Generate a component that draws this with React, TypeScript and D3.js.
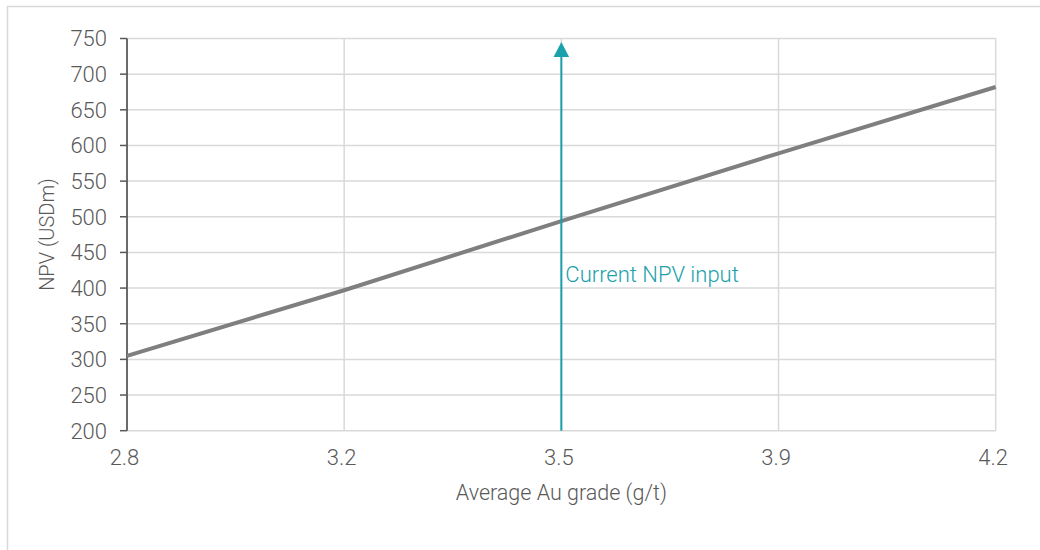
import React from "react";
import * as d3 from "d3";

const grades: string[] = ["2.8", "3.2", "3.5", "3.9", "4.2"];
const npv: number[] = [305, 397, 494, 589, 682];
const yTicks: number[] = [200, 250, 300, 350, 400, 450, 500, 550, 600, 650, 700, 750];
const currentGrade = "3.5";
const arrowTipValue = 745;
const labelValue = 409;
const labelText = "Current NPV input";
const xTitle = "Average Au grade (g/t)";
const yTitle = "NPV (USDm)";

const W = 1040;
const H = 550;
const left = 127;
const right = 995.7;
const top = 38.5;
const bottom = 430.7;
const FONT = "Roboto, 'Open Sans', sans-serif";
const TEXT = "#595959";
const GRID = "#d9d9d9";
const TEAL = "#1ba1ab";

export default function App() {
  const x = d3.scalePoint<string>().domain(grades).range([left, right]);
  const y = d3.scaleLinear().domain([200, 750]).range([bottom, top]);
  const line = d3
    .line<number>()
    .x((_, i) => x(grades[i]) as number)
    .y((d) => y(d));

  const ax = x(currentGrade) as number;
  const tipY = y(arrowTipValue);
  const headH = 15;
  const headW = 15.6;

  return (
    <svg
      width={W}
      height={H}
      style={{ position: "absolute", left: 0, top: 0, background: "#fff" }}
      fontFamily={FONT}
      fontWeight={300}
    >
      <rect x={7.5} y={6.5} width={W + 10} height={H + 10} fill="#fff" stroke={GRID} strokeWidth={1.5} />
      {yTicks.map((t) => (
        <line key={"h" + t} x1={left} x2={right} y1={y(t)} y2={y(t)} stroke={GRID} strokeWidth={1.5} />
      ))}
      {grades.map((g) => (
        <line key={"v" + g} x1={x(g)} x2={x(g)} y1={top} y2={bottom} stroke={GRID} strokeWidth={1.5} />
      ))}
      <line x1={left} x2={left} y1={top} y2={bottom} stroke={TEXT} strokeWidth={1.75} />
      {yTicks.map((t) => (
        <g key={"t" + t}>
          <line x1={left - 7} x2={left} y1={y(t)} y2={y(t)} stroke={TEXT} strokeWidth={1.5} />
          <text x={107} y={y(t)} dy="0.36em" textAnchor="end" fontSize={22} fill={TEXT}>
            {t}
          </text>
        </g>
      ))}
      {grades.map((g) => (
        <text key={"xl" + g} x={(x(g) as number) - 2.5} y={465} textAnchor="middle" fontSize={22} fill={TEXT}>
          {g}
        </text>
      ))}
      <text x={(left + right) / 2} y={500} textAnchor="middle" fontSize={21.5} fill={TEXT}>
        {xTitle}
      </text>
      <text
        transform={`translate(${54},${(top + bottom) / 2}) rotate(-90)`}
        textAnchor="middle"
        fontSize={20}
        fill={TEXT}
      >
        {yTitle}
      </text>
      <path d={line(npv) || ""} fill="none" stroke="#7f7f7f" strokeWidth={4} />
      <line x1={ax} x2={ax} y1={bottom} y2={tipY + headH - 1} stroke={TEAL} strokeWidth={2} />
      <path
        d={`M${ax},${tipY} L${ax + headW / 2},${tipY + headH} L${ax - headW / 2},${tipY + headH} Z`}
        fill={TEAL}
      />
      <text x={ax + 4} y={y(labelValue)} fontSize={22} fill={TEAL}>
        {labelText}
      </text>
    </svg>
  );
}
